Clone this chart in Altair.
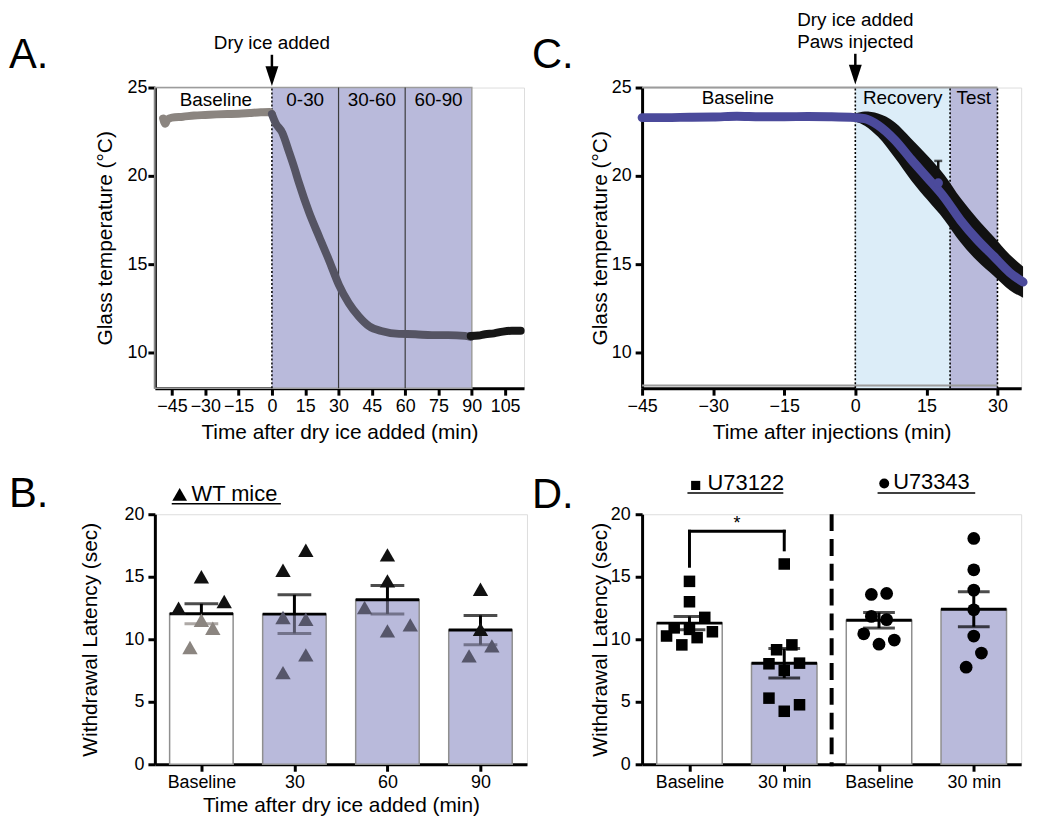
import json
import altair as alt
import pandas as pd

FONT = "Liberation Sans"
LAV = "#b9badb"
LBLUE = "#dcedf8"
BLUE = "#4b4a9b"
BOXGRAY = "#9c9c9c"

# ---------------- Panel A data ----------------
a_base_t = [-49, -48, -47, -45, -40, -35, -30, -25, -20, -15, -10, -5, -1, 0]
a_base_v = [23.25, 22.95, 23.2, 23.3, 23.35, 23.42, 23.45, 23.48, 23.5, 23.52, 23.56, 23.6, 23.62, 23.5]
a_cool_t = [0, 1.6, 4.7, 7.6, 10, 12.2, 16.7, 21.3, 25.7, 30.2, 34.6, 39.1, 43.8, 49.7, 57.2, 64.6, 72, 79.4, 86.9, 89.5]
a_cool_v = [23.5, 23.0, 22.44, 21.4, 20.5, 19.6, 17.95, 16.55, 15.24, 13.83, 12.81, 12.06, 11.5, 11.22, 11.07, 11.05, 11.0, 11.0, 10.96, 10.9]
a_warm_t = [89.5, 93, 96, 100, 104, 108, 112]
a_warm_v = [10.95, 10.98, 11.05, 11.1, 11.2, 11.25, 11.25]
a_labels = ["Baseline", "0-30", "30-60", "60-90"]
a_label_t = [-25.2, 15, 45, 75]
a_bounds = [30, 60]

# ---------------- Panel C data ----------------
c_base_t = [-45, -40, -35, -30, -25, -20, -15, -10, -5, 0]
c_base_v = [23.3, 23.3, 23.32, 23.33, 23.38, 23.35, 23.35, 23.36, 23.35, 23.3]
c_cool_t = [0, 2, 4.8, 8.3, 11.8, 15.2, 18.75, 22.2, 25.7, 29.2, 32.6, 35.4]
c_cool_v = [23.3, 23.24, 22.87, 22.04, 20.93, 19.9, 18.8, 17.5, 16.4, 15.46, 14.54, 14.0]
c_spread = [0.22, 0.4, 0.66, 1.0, 1.18, 1.25, 1.27, 1.25, 1.2, 1.1, 1.0, 0.88]
c_err_t = [17.5]
c_err_mean = [19.6]
c_err_up = [20.85]
c_labels = ["Baseline", "Recovery", "Test"]
c_label_t = [-24.8, 10, 25]
c_bounds = [0, 20, 30]

# ---------------- Panel B data ----------------
b_cats = ["Baseline", "30", "60", "90"]
b_base = [15.0, 12.48, 13.02, 11.52, 10.88, 9.34]
b_base_slot = [0, -2, 2, 0, 1, -1]
b_30 = [17.12, 15.52, 11.74, 11.6, 8.75, 7.33]
b_30_slot = [1, -1, -1, 1, 1, -1]
b_60 = [16.75, 14.67, 12.54, 11.15, 10.67]
b_60_slot = [0, 0, -2, 2, 0]
b_90 = [14.0, 10.8, 9.47, 8.67]
b_90_slot = [0, 0, 1, -1]

# ---------------- Panel D data ----------------
d_cats = ["Baseline", "30 min", "Baseline", "30 min"]
d_groups = ["U73122", "U73343"]
d_u122_base = [14.63, 13.0, 11.75, 10.91, 10.79, 10.6, 10.26, 10.13, 9.55]
d_u122_base_slot = [0, 0, 2, -2, 0, 3, -3, 1, -1]
d_u122_30 = [16.02, 9.16, 9.55, 8.04, 8.09, 7.51, 5.29, 4.76, 4.24]
d_u122_30_slot = [0, -1, 1, -2, 2, 0, -2, 2, 0]
d_u343_base = [13.58, 13.66, 11.83, 11.57, 10.44, 9.94, 9.61]
d_u343_base_slot = [-1, 1, -1, 1, -2, 2, 0]
d_u343_30 = [18.06, 15.55, 13.93, 12.36, 10.26, 8.9, 7.77]
d_u343_30_slot = [0, 0, 0, 0, 0, 1, -1]
d_bracket = [15.84, 18.64, 17.15]

AX = dict(domainColor="black", domainWidth=3, tickColor="black", tickWidth=3, tickSize=7,
          labelFont=FONT, labelFontSize=18, labelColor="black", titleFont=FONT,
          titleFontSize=21, titleFontWeight="normal", titleColor="black", grid=False,
          labelFlush=False, labelOverlap=False)


def one():
    return pd.DataFrame({"k": [0]})


def txt(s, x, y, size=19, align="center"):
    return alt.Chart(one()).mark_text(text=s, font=FONT, fontSize=size, align=align,
                                      baseline="alphabetic", color="black").encode(
        x=alt.value(x), y=alt.value(y))


# ======================= Panel A =======================
W1, H1 = 372, 303


def ax_():
    return alt.X("ta:Q", scale=alt.Scale(domain=[-52.7, 113.5], nice=False, zero=False),
                 axis=alt.Axis(values=list(range(-45, 106, 15)), title="Time after dry ice added (min)",
                               labelPadding=2, titlePadding=7, **AX))


def ay_(f="va"):
    return alt.Y(f"{f}:Q", scale=alt.Scale(domain=[8, 25], nice=False, zero=False),
                 axis=alt.Axis(values=[10, 15, 20, 25], title="Glass temperature (°C)",
                               labelPadding=1, titlePadding=12, **AX))


a_shade = alt.Chart(pd.DataFrame({"ta": [0], "t2": [90], "va": [8], "v2": [25]})).mark_rect(
    fill=LAV).encode(x=ax_(), x2="t2:Q", y=ay_(), y2="v2:Q")
a_box = alt.Chart(pd.DataFrame({"ta": [-52.7], "t2": [90], "va": [8], "v2": [25]})).mark_rect(
    fillOpacity=0, stroke=BOXGRAY, strokeWidth=1.5).encode(x=ax_(), x2="t2:Q", y=ay_(), y2="v2:Q")
a_div = alt.Chart(pd.DataFrame({"ta": a_bounds, "va": [8] * 2, "v2": [25] * 2})).mark_rule(
    color="#3c3c3c", strokeWidth=1.2).encode(x=ax_(), y=ay_(), y2="v2:Q")
a_zero = alt.Chart(pd.DataFrame({"ta": [0], "va": [8], "v2": [25]})).mark_rule(
    color="black", strokeWidth=1.5, strokeDash=[2, 2]).encode(x=ax_(), y=ay_(), y2="v2:Q")
a_l1 = alt.Chart(pd.DataFrame({"ta": a_base_t, "va": a_base_v})).mark_line(
    color="#8b8580", strokeWidth=8, strokeCap="round", interpolate="monotone").encode(x=ax_(), y=ay_())
a_l2 = alt.Chart(pd.DataFrame({"ta": a_cool_t, "va": a_cool_v})).mark_line(
    color="#555463", strokeWidth=8, strokeCap="round", interpolate="monotone").encode(x=ax_(), y=ay_())
a_l3 = alt.Chart(pd.DataFrame({"ta": a_warm_t, "va": a_warm_v})).mark_line(
    color="#161616", strokeWidth=8, strokeCap="round", interpolate="monotone").encode(x=ax_(), y=ay_())
a_lab = alt.Chart(pd.DataFrame({"ta": a_label_t, "label": a_labels})).mark_text(
    font=FONT, fontSize=19, baseline="alphabetic", color="black").encode(
    x=ax_(), y=alt.value(18.5), text="label:N")
a_arrow = alt.Chart(pd.DataFrame({"ta": [0]})).mark_rule(color="black", strokeWidth=2.5).encode(
    x=ax_(), y=alt.value(-33), y2=alt.value(-15))
a_head = alt.Chart(pd.DataFrame({"ta": [0]})).mark_point(
    shape="M-0.65,-1L0.65,-1L0,1Z", filled=True, size=400, color="black", opacity=1).encode(
    x=ax_(), y=alt.value(-11.5))
a_note = alt.Chart(pd.DataFrame({"ta": [0]})).mark_text(
    text="Dry ice added", font=FONT, fontSize=19, baseline="alphabetic", color="black").encode(
    x=ax_(), y=alt.value(-38.5))

A = alt.layer(a_shade, a_box, a_div, a_zero, a_l1, a_l2, a_l3, a_lab, a_arrow, a_head, a_note,
              txt("A.", -147, -19.5, 42, "left")).properties(width=W1, height=H1)

# ======================= Panel C =======================
W2 = 382


def cx_():
    return alt.X("tc:Q", scale=alt.Scale(domain=[-45, 35], nice=False, zero=False),
                 axis=alt.Axis(values=list(range(-45, 31, 15)), title="Time after injections (min)",
                               labelPadding=2, titlePadding=7, **AX))


def cy_(f="vc"):
    return alt.Y(f"{f}:Q", scale=alt.Scale(domain=[8, 25], nice=False, zero=False),
                 axis=alt.Axis(values=[10, 15, 20, 25], title="Glass temperature (°C)",
                               labelPadding=4, titlePadding=1, **AX))


c_shade = alt.Chart(pd.DataFrame({"tc": c_bounds[:2], "t2": c_bounds[1:], "vc": [8, 8], "v2": [25, 25],
                                  "p": ["Recovery", "Test"]})).mark_rect().encode(
    x=cx_(), x2="t2:Q", y=cy_(), y2="v2:Q",
    fill=alt.Fill("p:N", scale=alt.Scale(domain=["Recovery", "Test"], range=[LBLUE, LAV]), legend=None))
c_edges = alt.Chart(pd.DataFrame({"tc": [-45, -45], "t2": [30, 30], "vc": [25, 8.15]})).mark_rule(
    color=BOXGRAY, strokeWidth=2).encode(x=cx_(), x2="t2:Q", y=cy_())
c_dots = alt.Chart(pd.DataFrame({"tc": c_bounds, "vc": [8] * 3, "v2": [25] * 3})).mark_rule(
    color="black", strokeWidth=1.6, strokeDash=[2, 2]).encode(x=cx_(), y=cy_(), y2="v2:Q")
c_band_df = pd.DataFrame({"tc": c_cool_t,
                          "lo": [m - s for m, s in zip(c_cool_v, c_spread)],
                          "hi": [m + s for m, s in zip(c_cool_v, c_spread)]})
c_band = alt.Chart(c_band_df).mark_area(color="#111111", interpolate="monotone", opacity=1).encode(
    x=cx_(), y=cy_("lo"), y2="hi:Q")
c_err = alt.Chart(pd.DataFrame({"tc": c_err_t, "vc": c_err_mean, "up": c_err_up})).mark_rule(
    color="#111111", strokeWidth=2.5).encode(x=cx_(), y=cy_(), y2="up:Q")
c_errcap = alt.Chart(pd.DataFrame({"tc": c_err_t, "vc": c_err_up})).mark_tick(
    color="#111111", thickness=2.5, size=8, orient="horizontal").encode(x=cx_(), y=cy_())
c_line = alt.Chart(pd.DataFrame({"tc": c_base_t + c_cool_t[1:], "vc": c_base_v + c_cool_v[1:]})).mark_line(
    color=BLUE, strokeWidth=9, strokeCap="round", interpolate="monotone").encode(x=cx_(), y=cy_())
c_errdot = alt.Chart(pd.DataFrame({"tc": c_err_t, "vc": c_err_mean})).mark_circle(
    color=BLUE, size=90, opacity=1).encode(x=cx_(), y=cy_())
c_lab = alt.Chart(pd.DataFrame({"tc": c_label_t, "label": c_labels})).mark_text(
    font=FONT, fontSize=19, baseline="alphabetic", color="black").encode(
    x=cx_(), y=alt.value(17), text="label:N")
c_arrow = alt.Chart(pd.DataFrame({"tc": [0]})).mark_rule(color="black", strokeWidth=2.5).encode(
    x=cx_(), y=alt.value(-34), y2=alt.value(-18))
c_head = alt.Chart(pd.DataFrame({"tc": [0]})).mark_point(
    shape="M-0.65,-1L0.65,-1L0,1Z", filled=True, size=400, color="black", opacity=1).encode(
    x=cx_(), y=alt.value(-13))
c_note1 = alt.Chart(pd.DataFrame({"tc": [0]})).mark_text(
    text="Dry ice added", font=FONT, fontSize=19, baseline="alphabetic", color="black").encode(
    x=cx_(), y=alt.value(-61.5))
c_note2 = alt.Chart(pd.DataFrame({"tc": [0]})).mark_text(
    text="Paws injected", font=FONT, fontSize=19, baseline="alphabetic", color="black").encode(
    x=cx_(), y=alt.value(-39.5))

C = alt.layer(c_shade, c_edges, c_dots, c_band, c_err, c_errcap, c_line, c_errdot, c_lab,
              c_arrow, c_head, c_note1, c_note2, txt("C.", -111, -19.5, 42, "left")).properties(
    width=W2, height=H1)

# ======================= Panel B =======================
WB, HB = 375, 252
TONES = ["hi", "lo_base", "lo_post"]
TONE_COL = ["#111111", "#8b8580", "#56566a"]
B_BAR_HALF = 32 / (WB / 4)        # half bar width in x units
B_SLOT = 11.5 / (WB / 4)          # horizontal spread step of the points

b_rows = []
for i, (vals, slots) in enumerate(zip([b_base, b_30, b_60, b_90],
                                      [b_base_slot, b_30_slot, b_60_slot, b_90_slot])):
    for v, s in zip(vals, slots):
        b_rows.append({"bi": i, "bv": v, "bx": i + s * B_SLOT})
b_pts = pd.DataFrame(b_rows)
b_sum = b_pts.groupby("bi")["bv"].agg(["mean", "std", "count"]).reset_index()
b_sum["sem"] = b_sum["std"] / b_sum["count"] ** 0.5
b_sum = b_sum.rename(columns={"mean": "bv"})
b_sum["upper"] = b_sum["bv"] + b_sum["sem"]
b_sum["lower"] = b_sum["bv"] - b_sum["sem"]
b_sum["x0"] = b_sum["bi"] - B_BAR_HALF
b_sum["x1"] = b_sum["bi"] + B_BAR_HALF
b_sum["tone"] = ["lo_base" if i == 0 else "lo_post" for i in b_sum["bi"]]
b_sum["kind"] = ["base" if i == 0 else "post" for i in b_sum["bi"]]
b_sum = b_sum[["bi", "bv", "upper", "lower", "x0", "x1", "tone", "kind"]]
b_mean_map = dict(zip(b_sum["bi"], b_sum["bv"]))
b_pts["tone"] = ["hi" if v > b_mean_map[i] else ("lo_base" if i == 0 else "lo_post")
                 for i, v in zip(b_pts["bi"], b_pts["bv"])]

B_LABEL_EXPR = json.dumps(b_cats) + "[datum.value]"


def bx_(f="bi"):
    return alt.X(f"{f}:Q", scale=alt.Scale(domain=[-0.5, 3.5], nice=False, zero=False),
                 axis=alt.Axis(title="Time after dry ice added (min)", values=[0, 1, 2, 3],
                               labelExpr=B_LABEL_EXPR, labelPadding=2, titlePadding=4, **AX))


def by_(f="bv"):
    return alt.Y(f"{f}:Q", scale=alt.Scale(domain=[0, 20], nice=False),
                 axis=alt.Axis(values=[0, 5, 10, 15, 20], title="Withdrawal Latency (sec)",
                               labelPadding=4, titlePadding=24, **AX))


tone_color = alt.Color("tone:N", scale=alt.Scale(domain=TONES, range=TONE_COL), legend=None)

b_bar = alt.Chart(b_sum).mark_rect(stroke="#8f8f8f", strokeWidth=1.5).encode(
    x=bx_("x0"), x2="x1:Q", y=by_(), y2=alt.datum(0),
    fill=alt.Fill("kind:N", scale=alt.Scale(domain=["base", "post"], range=["white", LAV]), legend=None))
b_lo = alt.Chart(b_sum).mark_rule(strokeWidth=3).encode(x=bx_(), y=by_("lower"), y2="bv:Q", color=tone_color)
b_locap = alt.Chart(b_sum).mark_tick(thickness=3, size=34, orient="horizontal").encode(
    x=bx_(), y=by_("lower"), color=tone_color)
b_hi = alt.Chart(b_sum).mark_rule(strokeWidth=3, color="black").encode(x=bx_(), y=by_("bv"), y2="upper:Q")
b_hicap = alt.Chart(b_sum).mark_tick(thickness=3, size=34, color="black", orient="horizontal").encode(
    x=bx_(), y=by_("upper"))
b_top = alt.Chart(b_sum).mark_rule(strokeWidth=3, color="black").encode(x=bx_("x0"), x2="x1:Q", y=by_())
b_pt = alt.Chart(b_pts).mark_point(shape="triangle-up", filled=True, size=240, opacity=1).encode(
    x=bx_("bx"), y=by_(), color=tone_color)
b_sym = alt.Chart(one()).mark_point(shape="triangle-up", filled=True, size=220, color="black",
                                    opacity=1).encode(x=alt.value(25), y=alt.value(-20))
b_ul = alt.Chart(one()).mark_rule(color="black", strokeWidth=1.5).encode(
    x=alt.value(17), x2=alt.value(127), y=alt.value(-10.5))

B = alt.layer(b_bar, b_lo, b_locap, b_hi, b_hicap, b_top, b_pt, b_sym, b_ul,
              txt("WT mice", 37, -13, 22, "left"), txt("B.", -147, -7, 42, "left")).properties(
    width=WB, height=HB)

# ======================= Panel D =======================
D_BAR_HALF = 33 / (W2 / 4)
D_SLOT = 7.7 / (W2 / 4)

d_rows = []
for i, (vals, slots) in enumerate(zip([d_u122_base, d_u122_30, d_u343_base, d_u343_30],
                                      [d_u122_base_slot, d_u122_30_slot, d_u343_base_slot, d_u343_30_slot])):
    for v, s in zip(vals, slots):
        d_rows.append({"di": i, "dv": v, "dx": i + s * D_SLOT, "drug": d_groups[i // 2]})
d_pts = pd.DataFrame(d_rows)
d_sum = d_pts.groupby("di")["dv"].agg(["mean", "std", "count"]).reset_index()
d_sum["sem"] = d_sum["std"] / d_sum["count"] ** 0.5
d_sum = d_sum.rename(columns={"mean": "dv"})
d_sum["upper"] = d_sum["dv"] + d_sum["sem"]
d_sum["lower"] = d_sum["dv"] - d_sum["sem"]
d_sum["x0"] = d_sum["di"] - D_BAR_HALF
d_sum["x1"] = d_sum["di"] + D_BAR_HALF
d_sum["kind"] = [d_cats[i] for i in d_sum["di"]]
d_sum = d_sum[["di", "dv", "upper", "lower", "x0", "x1", "kind"]]

D_LABEL_EXPR = json.dumps(d_cats) + "[datum.value]"


def dx_(f="di"):
    return alt.X(f"{f}:Q", scale=alt.Scale(domain=[-0.5, 3.5], nice=False, zero=False),
                 axis=alt.Axis(title=None, values=[0, 1, 2, 3], labelExpr=D_LABEL_EXPR,
                               labelPadding=2, **AX))


def dy_(f="dv"):
    return alt.Y(f"{f}:Q", scale=alt.Scale(domain=[0, 20], nice=False),
                 axis=alt.Axis(values=[0, 5, 10, 15, 20], title="Withdrawal Latency (sec)",
                               labelPadding=5, titlePadding=0, **AX))


d_bar = alt.Chart(d_sum).mark_rect(stroke="#8f8f8f", strokeWidth=1.5).encode(
    x=dx_("x0"), x2="x1:Q", y=dy_(), y2=alt.datum(0),
    fill=alt.Fill("kind:N", scale=alt.Scale(domain=["Baseline", "30 min"], range=["white", LAV]), legend=None))
d_err = alt.Chart(d_sum).mark_rule(strokeWidth=3, color="black").encode(x=dx_(), y=dy_("lower"), y2="upper:Q")
d_cap1 = alt.Chart(d_sum).mark_tick(thickness=3, size=32, color="black", orient="horizontal").encode(
    x=dx_(), y=dy_("lower"))
d_cap2 = alt.Chart(d_sum).mark_tick(thickness=3, size=32, color="black", orient="horizontal").encode(
    x=dx_(), y=dy_("upper"))
d_top = alt.Chart(d_sum).mark_rule(strokeWidth=3, color="black").encode(x=dx_("x0"), x2="x1:Q", y=dy_())
d_sq = alt.Chart(d_pts[d_pts["drug"] == "U73122"]).mark_point(
    shape="square", filled=True, size=135, color="black", opacity=1).encode(x=dx_("dx"), y=dy_())
d_ci = alt.Chart(d_pts[d_pts["drug"] == "U73343"]).mark_point(
    shape="circle", filled=True, size=165, color="black", opacity=1).encode(x=dx_("dx"), y=dy_())
d_br_df = pd.DataFrame({"di": [0, 0, 1], "x2": [0, 1, 1],
                        "dv": [d_bracket[0], d_bracket[1], d_bracket[2]],
                        "v2": [d_bracket[1], d_bracket[1], d_bracket[1]]})
d_br = alt.Chart(d_br_df).mark_rule(strokeWidth=3, color="black", strokeCap="square").encode(
    x=dx_(), x2="x2:Q", y=dy_(), y2="v2:Q")
d_star = alt.Chart(pd.DataFrame({"di": [0.5], "dv": [d_bracket[1]]})).mark_text(
    text="*", font=FONT, fontSize=18, baseline="alphabetic", dy=-2, color="black").encode(
    x=dx_(), y=dy_())
d_sep = alt.Chart(pd.DataFrame({"di": [1.5]})).mark_rule(color="black", strokeWidth=4, strokeDash=[17, 8]).encode(
    x=dx_(), y=alt.value(0), y2=alt.value(HB + 2))
d_sym1 = alt.Chart(one()).mark_point(shape="square", filled=True, size=85, color="black", opacity=1).encode(
    x=alt.value(54), y=alt.value(-29))
d_sym2 = alt.Chart(one()).mark_point(shape="circle", filled=True, size=100, color="black", opacity=1).encode(
    x=alt.value(244), y=alt.value(-31))
d_ul1 = alt.Chart(one()).mark_rule(color="black", strokeWidth=1.5).encode(
    x=alt.value(45.7), x2=alt.value(142.3), y=alt.value(-21.3))
d_ul2 = alt.Chart(one()).mark_rule(color="black", strokeWidth=1.5).encode(
    x=alt.value(237.3), x2=alt.value(335.7), y=alt.value(-21.3))

D = alt.layer(d_bar, d_err, d_cap1, d_cap2, d_top, d_sq, d_ci, d_br, d_star, d_sep, d_sym1, d_sym2,
              txt("U73122", 66, -24, 22, "left"), txt("U73343", 253, -25.5, 22, "left"),
              txt("D.", -111, -6, 42, "left"), d_ul1, d_ul2).properties(width=W2, height=HB)

chart = alt.concat(A, C, B, D, columns=2, spacing={"row": 127, "column": 116},
                   bounds="flush", align="each").resolve_scale(
    x="independent", y="independent", fill="independent", color="independent").properties(
    padding=0).configure_view(stroke=None).configure(font=FONT)

chart.save("out.html", embed_options={"renderer": "svg", "actions": False})
